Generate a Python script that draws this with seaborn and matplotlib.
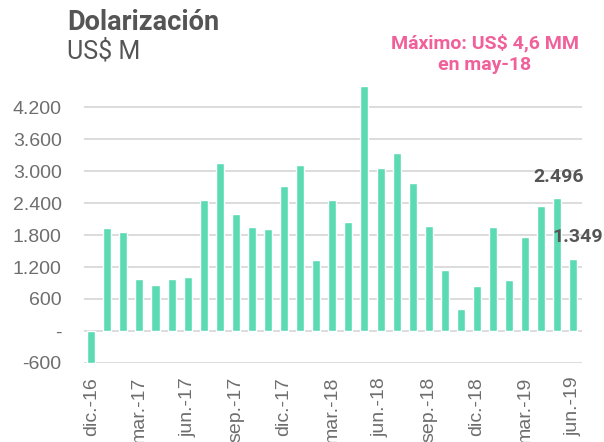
import pandas as pd
import seaborn as sns
import matplotlib.pyplot as plt

# Monthly data, dic-16 .. jun-19 (US$ M)
months = ['dic.-16', 'ene.-17', 'feb.-17', 'mar.-17', 'abr.-17', 'may.-17', 'jun.-17',
          'jul.-17', 'ago.-17', 'sep.-17', 'oct.-17', 'nov.-17', 'dic.-17',
          'ene.-18', 'feb.-18', 'mar.-18', 'abr.-18', 'may.-18', 'jun.-18',
          'jul.-18', 'ago.-18', 'sep.-18', 'oct.-18', 'nov.-18', 'dic.-18',
          'ene.-19', 'feb.-19', 'mar.-19', 'abr.-19', 'may.-19', 'jun.-19']
values = [-600, 1925, 1850, 970, 860, 970, 1005,
          2460, 3160, 2200, 1950, 1905, 2730,
          3120, 1325, 2460, 2050, 4605, 3065,
          3340, 2785, 1965, 1145, 410, 850,
          1950, 950, 1755, 2340, 2496, 1349]
yticks = [-600, 0, 600, 1200, 1800, 2400, 3000, 3600, 4200]
ytick_labels = ['-600', '-', '600', '1.200', '1.800', '2.400', '3.000', '3.600', '4.200']

df = pd.DataFrame({'mes': months, 'valor': values})

sns.set_style('white')
plt.rcParams['font.family'] = ['Roboto', 'DejaVu Sans']

fig = plt.figure(figsize=(6.04, 4.42), dpi=100)
ax = fig.add_axes([0.139, 0.179, 0.825, 0.629])

bar_color = '#5CDAB4'
sns.barplot(data=df, x='mes', y='valor', color=bar_color, width=0.5,
            saturation=1, ax=ax, zorder=3)

ax.set_ylim(-600, 4620)
ax.set_xlim(-0.45, 30.55)
ax.set_yticks(yticks)
ax.set_yticklabels(ytick_labels)
ax.yaxis.grid(True, color='#D9D9D9', linewidth=1.3, zorder=0)
ax.set_axisbelow(True)

ax.set_xticks(range(0, len(months), 3))
ax.set_xticklabels(months[::3], rotation=90)
ax.tick_params(axis='both', length=0, labelsize=14, labelcolor='#6E6E6E')
ax.tick_params(axis='y', pad=16)
ax.tick_params(axis='x', pad=10)
for lab in ax.get_xticklabels() + ax.get_yticklabels():
    lab.set_family(['Liberation Sans', 'DejaVu Sans'])
for s in ax.spines.values():
    s.set_visible(False)
ax.set_xlabel('')
ax.set_ylabel('')

# labels on the last two bars
ax.text(29.1, 2890, '2.496', ha='center', va='center',
        fontsize=14, fontweight='bold', color='#555555')
ax.text(30.26, 1755, '1.349', ha='center', va='center',
        fontsize=14, fontweight='bold', color='#555555')

fig.text(0.111, 0.949, 'Dolarización', fontsize=19.5, fontweight='bold',
         color='#555555', va='center')
fig.text(0.111, 0.883, 'US$ M', fontsize=18, color='#555555', va='center')
fig.text(0.803, 0.878, 'Máximo: US$ 4,6 MM\nen may-18', fontsize=14,
         fontweight='bold', color='#F0609A', ha='center', va='center',
         linespacing=1.2)

fig.savefig('out.png', dpi=100)
